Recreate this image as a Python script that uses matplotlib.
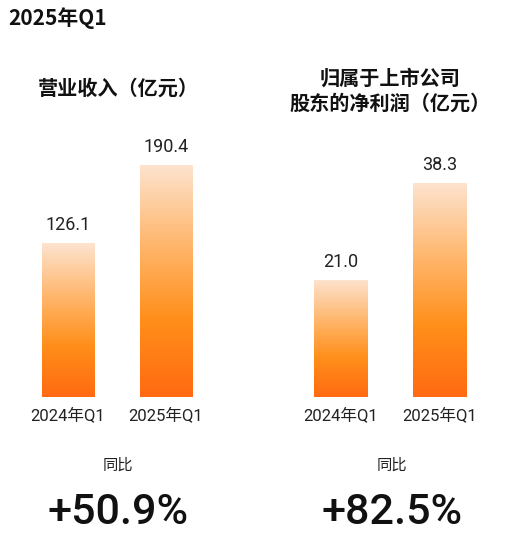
import numpy as np
import matplotlib.pyplot as plt
from matplotlib.colors import LinearSegmentedColormap
from matplotlib.patches import Rectangle

plt.rcParams['font.family'] = ['Noto Sans CJK SC', 'DejaVu Sans']

# Daten
kategorien = ["2024年Q1", "2025年Q1"]
umsatz = [126.1, 190.4]
gewinn = [21.0, 38.3]
wachstum = ["+50.9%", "+82.5%"]

W, H = 515, 547
fig = plt.figure(figsize=(W / 100, H / 100), dpi=100)

cmap = LinearSegmentedColormap.from_list(
    "orange", ["#ff6a12", "#ff8f1a", "#ffb870", "#fde3cf"])
grad = np.linspace(0, 1, 256).reshape(-1, 1)
ZAHL = ["Roboto", "Noto Sans CJK SC"]


def px_axes(x0, x1, y_top, y_bot):
    return fig.add_axes([x0 / W, 1 - y_bot / H, (x1 - x0) / W, (y_bot - y_top) / H])


def balken(ax, werte, xlim, ylim_top, fmt):
    ax.set_xlim(*xlim)
    ax.set_ylim(0, ylim_top)
    ax.axis("off")
    for i, v in enumerate(werte):
        ext = (i - 0.27, i + 0.27, 0, v)
        im = ax.imshow(grad, cmap=cmap, extent=ext, aspect="auto", origin="lower")
        r = Rectangle((ext[0], 0), 0.54, v, transform=ax.transData, fc="none", ec="none")
        ax.add_patch(r)
        im.set_clip_path(r)
        ax.text(i, v + ylim_top * 0.03, fmt.format(v), ha="center", va="bottom",
                fontsize=13, color="#222222", family=ZAHL)
        ax.text(i, -ylim_top * 0.035, kategorien[i], ha="center", va="top",
                fontsize=12, color="#222222", clip_on=False, family=ZAHL)


# links: 1.22 px/Einheit, rechts: 5.58 px/Einheit, Höhe 297 px
ax1 = px_axes(10, 250, 100, 397)
balken(ax1, umsatz, (-0.592, 1.857), 297 / 1.22, "{:.1f}")
ax2 = px_axes(260, 510, 100, 397)
balken(ax2, gewinn, (-0.818, 1.707), 297 / 5.58, "{:.1f}")

fig.text(8 / W, 1 - 18 / H, "2025年Q1", fontsize=15, fontweight="bold",
         va="center", ha="left", color="#111111")
fig.text(118 / W, 1 - 88 / H, "营业收入（亿元）", fontsize=14.5, fontweight="bold",
         va="center", ha="center", color="#111111")
fig.text(390 / W, 1 - 91 / H, "归属于上市公司\n股东的净利润（亿元）", fontsize=14.5,
         fontweight="bold", va="center", ha="center", color="#111111", linespacing=1.25)

for xc, w in zip([118, 392], wachstum):
    fig.text(xc / W, 1 - 465 / H, "同比", fontsize=11, ha="center", va="center",
             color="#222222")
    fig.text(xc / W, 1 - 513 / H, w, fontsize=31, fontweight="medium", ha="center",
             va="center", color="#111111", family=["Roboto", "DejaVu Sans"])

fig.savefig("out.png", dpi=100)
